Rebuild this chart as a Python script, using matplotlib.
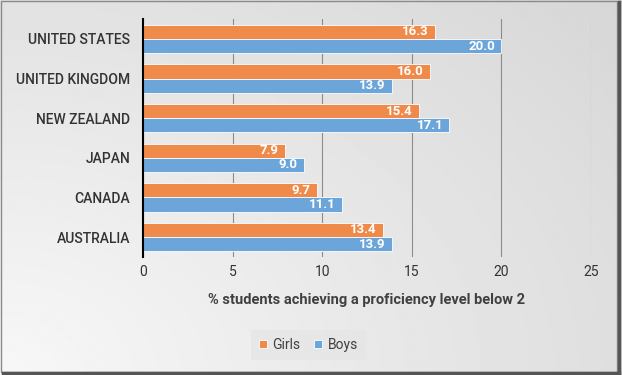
import numpy as np
import matplotlib.pyplot as plt
from matplotlib.patches import Rectangle

countries = ['UNITED STATES', 'UNITED KINGDOM', 'NEW ZEALAND', 'JAPAN', 'CANADA', 'AUSTRALIA']
girls = [16.3, 16.0, 15.4, 7.9, 9.7, 13.4]
boys = [20.0, 13.9, 17.1, 9.0, 11.1, 13.9]
xticks = [0, 5, 10, 15, 20, 25]

plt.rcParams['font.family'] = ['Roboto', 'DejaVu Sans']

fig = plt.figure(figsize=(6.22, 3.75), dpi=100)

# gradient background
bg = fig.add_axes([0, 0, 1, 1], zorder=-10)
yy, xx = np.mgrid[0:1:200j, 0:1:300j]
g = 0.97 - 0.13 * np.sqrt((xx * 0.9) ** 2 + (1 - yy) ** 2 * 0.6) / 1.2
bg.imshow(g, cmap='gray', vmin=0, vmax=1, extent=[0, 1, 0, 1], aspect='auto', origin='upper')
bg.add_patch(Rectangle((0.002, 0.008), 0.99, 0.99, fill=False, ec='#8a8a8a', lw=1.0, transform=bg.transAxes))
bg.plot([0.995, 0.995], [0.005, 0.995], color='#555555', lw=2.5, transform=bg.transAxes)
bg.plot([0.005, 0.995], [0.006, 0.006], color='#555555', lw=2.5, transform=bg.transAxes)
bg.set_xlim(0, 1)
bg.set_ylim(0, 1)
bg.axis('off')

ax = fig.add_axes([0.2299, 0.315, 0.720, 0.634])
ax.patch.set_alpha(0)
y = np.arange(len(countries))
h = 0.36
b1 = ax.barh(y - h / 2, girls, height=h, color='#F08A4B', edgecolor='white', lw=0.6, label='Girls', zorder=3)
b2 = ax.barh(y + h / 2, boys, height=h, color='#6CA5DA', edgecolor='white', lw=0.6, label='Boys', zorder=3)
for bars, vals in [(b1, girls), (b2, boys)]:
    for bar, v in zip(bars, vals):
        ax.text(v - 0.35, bar.get_y() + bar.get_height() / 2, f'{v:.1f}', ha='right', va='center',
                color='white', fontsize=9.5, fontweight='bold', zorder=4)

ax.set_ylim(len(countries) - 0.5, -0.5)
ax.set_xlim(0, 25)
ax.set_yticks(y)
ax.set_yticklabels(countries, fontsize=10, color='#333333', fontweight='medium')
ax.set_xticks(xticks)
ax.set_xticklabels([str(t) for t in xticks], fontsize=10, color='#333333')
ax.tick_params(axis='both', length=0, pad=6)
ax.tick_params(axis='y', pad=9)
ax.grid(axis='x', color='#8c8c8c', lw=0.8, zorder=0)
for s in ['top', 'right', 'bottom']:
    ax.spines[s].set_visible(False)
ax.spines['left'].set_color('black')
ax.spines['left'].set_linewidth(1.5)
ax.spines['left'].set_zorder(5)
ax.set_xlabel('% students achieving a proficiency level below 2', fontsize=10.5, fontweight='bold',
              color='#404040', labelpad=10)

leg = fig.legend(handles=[b1, b2], labels=['Girls', 'Boys'], loc='center', bbox_to_anchor=(0.496, 0.08),
                 ncol=2, frameon=True, fontsize=10, handlelength=0.55, handleheight=0.55, handletextpad=0.4,
                 columnspacing=1.0, borderpad=0.6, fancybox=False)
leg.get_frame().set_facecolor('#e6e6e6')
leg.get_frame().set_edgecolor('none')
for t in leg.get_texts():
    t.set_color('#404040')

fig.savefig('out.png', dpi=100)
